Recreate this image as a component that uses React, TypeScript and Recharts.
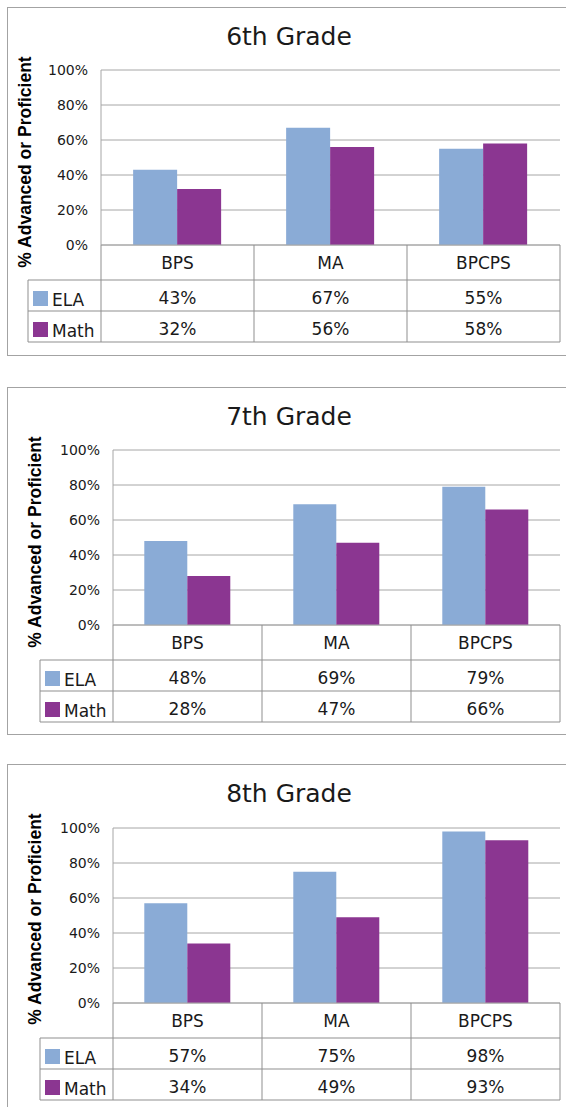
import React from 'react';
import { BarChart, Bar, XAxis, YAxis, CartesianGrid } from 'recharts';

const categories = ['BPS', 'MA', 'BPCPS'];
const grade6Ela = [43, 67, 55];
const grade6Math = [32, 56, 58];
const grade7Ela = [48, 69, 79];
const grade7Math = [28, 47, 66];
const grade8Ela = [57, 75, 98];
const grade8Math = [34, 49, 93];
const yTicks = [0, 20, 40, 60, 80, 100];

const ELA_COLOR = '#8aabd6';
const MATH_COLOR = '#8b3691';
const GRID = '#a6a6a6';
const TABLE_LINE = '#8f8f8f';
const TEXT = '#1a1a1a';
const FONT = '"DejaVu Sans", sans-serif';

const PLOT_RIGHT = 560;
const PLOT_H = 175;
const TABLE_H = 98;

const panels = [
  { title: '6th Grade', ela: grade6Ela, math: grade6Math, top: 7, height: 348, plotTop: 63, plotLeft: 101, legendLeft: 28, axisTitleX: 26 },
  { title: '7th Grade', ela: grade7Ela, math: grade7Math, top: 387, height: 347, plotTop: 63, plotLeft: 113, legendLeft: 40, axisTitleX: 35.5 },
  { title: '8th Grade', ela: grade8Ela, math: grade8Math, top: 764, height: 360, plotTop: 64, plotLeft: 113, legendLeft: 40, axisTitleX: 36 },
];

type PanelCfg = typeof panels[number];

const GradePanel = ({ cfg }: { cfg: PanelCfg }) => {
  const data = categories.map((name, i) => ({ name, ela: cfg.ela[i], math: cfg.math[i] }));
  const band = (PLOT_RIGHT - cfg.plotLeft) / categories.length;
  const cellText = { fontFamily: FONT, fontSize: 17, fill: TEXT };

  // the data table under the plot is drawn through the x-axis ticks
  const renderTick = (p: any) => {
    const { x, y, payload } = p;
    const row = data.find((d) => d.name === payload.value);
    const isFirst = payload.value === categories[0];
    const left = x - band / 2;
    return (
      <g>
        {isFirst && (
          <g>
            <line x1={cfg.legendLeft} x2={PLOT_RIGHT} y1={y + 35} y2={y + 35} stroke={TABLE_LINE} />
            <line x1={cfg.legendLeft} x2={PLOT_RIGHT} y1={y + 66} y2={y + 66} stroke={TABLE_LINE} />
            <line x1={cfg.legendLeft} x2={PLOT_RIGHT} y1={y + 97} y2={y + 97} stroke={TABLE_LINE} />
            <line x1={cfg.legendLeft} x2={cfg.legendLeft} y1={y + 35} y2={y + 97} stroke={TABLE_LINE} />
            <line x1={left} x2={left} y1={y} y2={y + 97} stroke={TABLE_LINE} />
            <rect x={cfg.legendLeft + 5} y={y + 46} width={15} height={15} fill={ELA_COLOR} />
            <text x={cfg.legendLeft + 24} y={y + 61} {...cellText}>ELA</text>
            <rect x={cfg.legendLeft + 5} y={y + 77} width={15} height={15} fill={MATH_COLOR} />
            <text x={cfg.legendLeft + 24} y={y + 92} {...cellText}>Math</text>
          </g>
        )}
        <line x1={x + band / 2} x2={x + band / 2} y1={y} y2={y + 97} stroke={TABLE_LINE} />
        <text x={x} y={y + 24} textAnchor="middle" {...cellText}>{payload.value}</text>
        <text x={x} y={y + 59} textAnchor="middle" {...cellText}>{row ? row.ela + '%' : ''}</text>
        <text x={x} y={y + 90} textAnchor="middle" {...cellText}>{row ? row.math + '%' : ''}</text>
      </g>
    );
  };

  return (
    <>
      <div
        style={{
          position: 'absolute', left: 7, top: cfg.top, width: 620, height: cfg.height + 1,
          border: '1px solid #a3a3a3', boxSizing: 'border-box',
        }}
      />
      <div style={{ position: 'absolute', left: 0, top: cfg.top }}>
        <BarChart
          width={566}
          height={cfg.height}
          data={data}
          margin={{ top: cfg.plotTop, right: 566 - PLOT_RIGHT, left: 0, bottom: cfg.height - cfg.plotTop - PLOT_H - TABLE_H }}
          barCategoryGap="21%"
          barGap={0}
        >
          <CartesianGrid vertical={false} stroke={GRID} />
          <XAxis
            dataKey="name"
            height={TABLE_H}
            interval={0}
            tickLine={false}
            tickSize={0}
            tickMargin={0}
            axisLine={{ stroke: GRID }}
            tick={renderTick}
          />
          <YAxis
            width={cfg.plotLeft}
            domain={[0, 100]}
            ticks={yTicks}
            interval={0}
            tickLine={false}
            tickSize={0}
            tickMargin={13}
            axisLine={{ stroke: GRID }}
            tickFormatter={(v: number) => v + '%'}
            tick={{ fill: TEXT, fontSize: 14, fontFamily: FONT }}
          />
          <Bar dataKey="ela" name="ELA" fill={ELA_COLOR} isAnimationActive={false} />
          <Bar dataKey="math" name="Math" fill={MATH_COLOR} isAnimationActive={false} />
        </BarChart>
      </div>
      <div
        style={{
          position: 'absolute', left: 289, top: cfg.top + 29.4, transform: 'translate(-50%, -50%)',
          fontFamily: FONT, fontSize: 25, lineHeight: '25px', whiteSpace: 'nowrap', color: TEXT,
        }}
      >
        {cfg.title}
      </div>
      <div
        style={{
          position: 'absolute', left: cfg.axisTitleX, top: cfg.top + 154.5,
          transform: 'translate(-50%, -50%) rotate(-90deg)',
          fontFamily: '"Liberation Sans", Arial, sans-serif', fontWeight: 'bold', fontSize: 17.5,
          lineHeight: '17.5px', whiteSpace: 'nowrap', color: '#000',
        }}
      >
        % Advanced or Proficient
      </div>
    </>
  );
};

export default function App() {
  return (
    <div style={{ position: 'absolute', left: 0, top: 0, width: 566, height: 1107, overflow: 'hidden', background: '#fff' }}>
      {panels.map((cfg) => (
        <GradePanel key={cfg.title} cfg={cfg} />
      ))}
    </div>
  );
}
